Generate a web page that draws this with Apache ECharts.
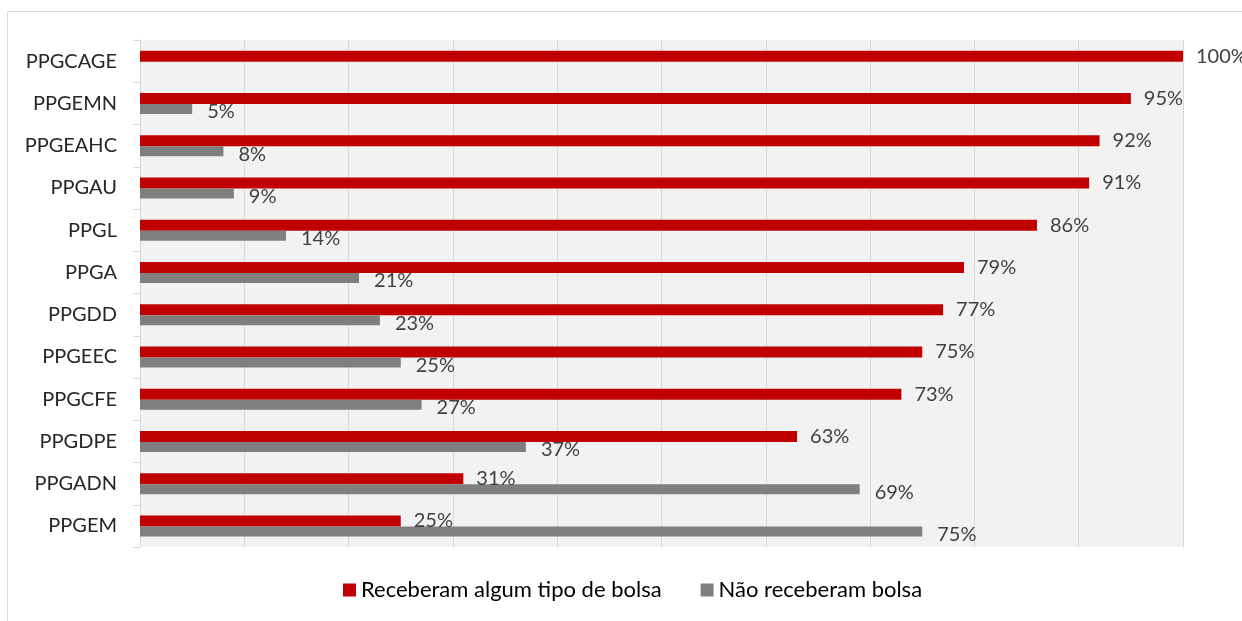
<!DOCTYPE html>
<html>
<head>
<meta charset="utf-8">
<script src="https://cdn.jsdelivr.net/npm/echarts@6/dist/echarts.min.js"></script>
<style>
  html, body { margin: 0; padding: 0; background: #fff; }
  #chart { width: 1242px; height: 621px; }
</style>
</head>
<body>
<div id="chart"></div>
<script>
var programas = ['PPGCAGE', 'PPGEMN', 'PPGEAHC', 'PPGAU', 'PPGL', 'PPGA', 'PPGDD', 'PPGEEC', 'PPGCFE', 'PPGDPE', 'PPGADN', 'PPGEM'];
var comBolsa = [100, 95, 92, 91, 86, 79, 77, 75, 73, 63, 31, 25];
var semBolsa = [0, 5, 8, 9, 14, 21, 23, 25, 27, 37, 69, 75];

var myChart = echarts.init(document.getElementById('chart'));
var fonte = 'Lato, "Open Sans", sans-serif';

var option = {
    animation: false,
    backgroundColor: '#fff',
    textStyle: { fontFamily: fonte },
    graphic: [{
        type: 'rect',
        shape: { x: 7.5, y: 11.5, width: 1400, height: 800 },
        style: { fill: 'none', stroke: '#d9d9d9', lineWidth: 1 },
        silent: true
    }],
    grid: {
        left: 140,
        right: 59,
        top: 40,
        bottom: 74,
        show: true,
        backgroundColor: '#f2f2f2',
        borderWidth: 0
    },
    legend: {
        bottom: 15,
        left: 338,
        itemWidth: 13,
        itemHeight: 13,
        itemGap: 39,
        icon: 'rect',
        textStyle: { fontSize: 22, color: '#000', fontFamily: fonte },
        data: ['Receberam algum tipo de bolsa', 'Não receberam bolsa']
    },
    xAxis: {
        type: 'value',
        min: 0,
        max: 100,
        interval: 10,
        axisLabel: { show: false },
        axisLine: { show: false },
        axisTick: { show: false },
        splitLine: { lineStyle: { color: '#d9d9d9', width: 1 } }
    },
    yAxis: {
        type: 'category',
        inverse: true,
        data: programas,
        axisLine: { lineStyle: { color: '#d9d9d9' } },
        axisTick: { show: true, length: 7, inside: false, lineStyle: { color: '#d9d9d9' } },
        axisLabel: { fontSize: 20, color: '#262626', margin: 23, fontFamily: fonte }
    },
    series: [{
        name: 'Receberam algum tipo de bolsa',
        type: 'bar',
        data: comBolsa,
        barWidth: 11,
        barGap: '0%',
        itemStyle: { color: '#c00000' },
        label: {
            show: true,
            position: 'right',
            distance: 13,
            fontSize: 20,
            color: '#404040',
            fontFamily: fonte,
            formatter: function (p) { return p.value + '%'; }
        }
    }, {
        name: 'Não receberam bolsa',
        type: 'bar',
        data: semBolsa,
        barWidth: 10,
        itemStyle: { color: '#7f7f7f' },
        label: {
            show: true,
            position: 'right',
            distance: 15,
            offset: [0, 3],
            fontSize: 20,
            color: '#404040',
            fontFamily: fonte,
            formatter: function (p) { return p.value > 0 ? p.value + '%' : ''; }
        }
    }]
};
myChart.setOption(option);
</script>
</body>
</html>
